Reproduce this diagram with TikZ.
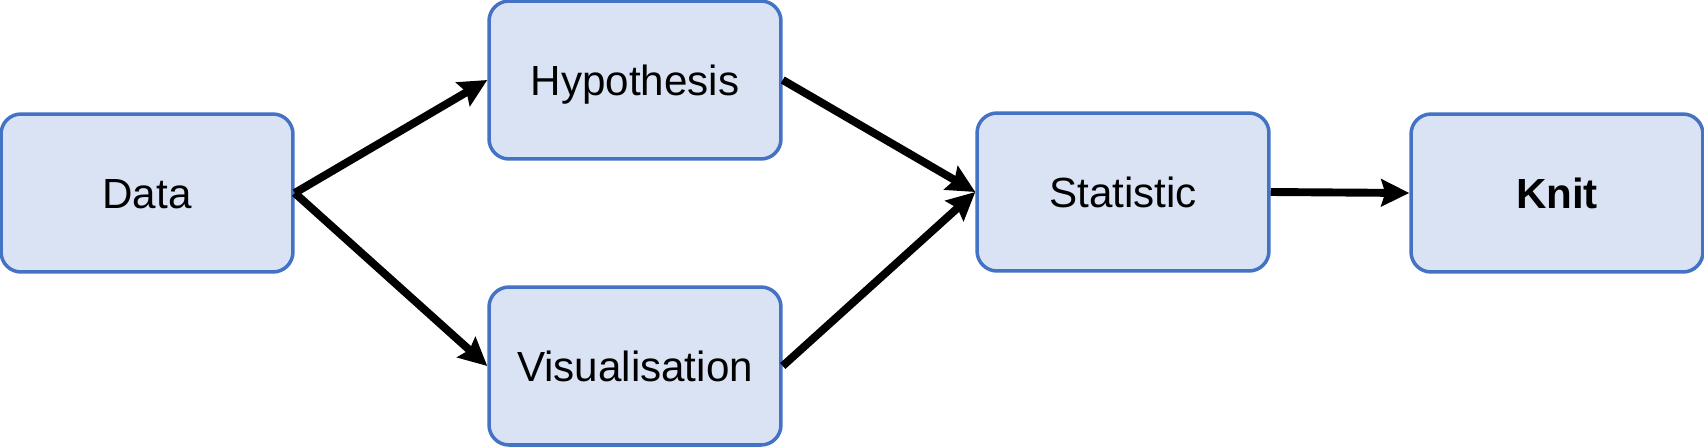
\documentclass[tikz,border=0pt]{standalone}
\usepackage{fontspec}
\setmainfont{Liberation Sans}
\usetikzlibrary{arrows.meta}

\definecolor{boxfill}{HTML}{DAE3F3}
\definecolor{boxline}{HTML}{4472C4}

\tikzset{
  stage/.style = {draw = boxline, fill = boxfill, line width = 2pt,
    rounded corners = 0.4cm, minimum width = 5.84cm, minimum height = 3.16cm,
    text height = 0.6cm, text depth = 0cm,
    font = \fontsize{24}{28}\selectfont},
  flow/.style = {line width = 4.5pt,
    -{Stealth[length = 0.56cm, width = 0.54cm, inset = 0.08cm]}}
}

\begin{document}
\begin{tikzpicture}[x = 0.02cm, y = -0.02cm]

\useasboundingbox (0,0) rectangle (1704,447);

\node [stage] (data) at (147,193) {Data};
\node [stage] (hypothesis) at (635,80) {Hypothesis};
\node [stage] (visual) at (635,366) {Visualisation};
\node [stage] (statistic) at (1123,192) {Statistic};
\node [stage] (knit) at (1557,193) {\textbf{Knit}};

\draw [flow] (data.east) -- (hypothesis.west);
\draw [flow] (data.east) -- (visual.west);
\draw [flow] (hypothesis.east) -- (statistic.west);
\draw [flow] (visual.east) -- (statistic.west);
\draw [flow] (statistic.east) -- (knit.west);

\end{tikzpicture}
\end{document}
